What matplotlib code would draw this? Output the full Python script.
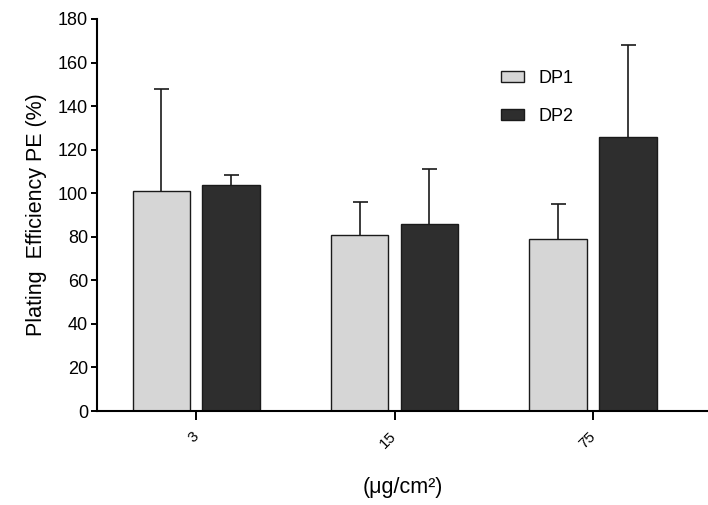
import numpy as np
import matplotlib.pyplot as plt
from matplotlib.patches import Patch

# data
doses = ['3', '15', '75']
dp1_mean = [101, 81, 79]
dp1_err = [47, 15, 16]
dp2_mean = [104, 86, 126]
dp2_err = [4.5, 25, 42]

plt.rcParams['font.family'] = ['Liberation Sans', 'DejaVu Sans']

fig = plt.figure(figsize=(7.08, 5.05), dpi=100)
ax = fig.add_axes([97 / 708, 1 - 411 / 505, 1 - 97 / 708, (411 - 19) / 505])

x = np.arange(len(doses))
width = 0.29
offset = 0.176

err_style = dict(ecolor='#1a1a1a', elinewidth=1.2, capsize=5.4, capthick=1.2)
for pos, mean, err, col in [(x - offset, dp1_mean, dp1_err, '#d6d6d6'),
                            (x + offset, dp2_mean, dp2_err, '#2e2e2e')]:
    bars = ax.bar(pos, mean, width, color=col, edgecolor='#1a1a1a', linewidth=1.0,
                  yerr=[np.zeros(len(doses)), err], error_kw=err_style, zorder=2)
    # only the upper half of the error bar gets a cap
    caps = bars.errorbar.lines[1]
    caps[0].set_visible(False)

ax.set_xlim(-0.5, 2.58)
ax.set_ylim(0, 180)
ax.set_yticks(np.arange(0, 181, 20))
ax.set_xticks(x)
ax.set_xticklabels(doses, rotation=45, ha='right', va='center',
                   rotation_mode='anchor', fontsize=11)
ax.tick_params(axis='y', labelsize=13, length=4.5, width=1.4, direction='out', pad=2)
ax.tick_params(axis='x', length=6.5, width=1.4, direction='out', pad=10)

for side in ['top', 'right']:
    ax.spines[side].set_visible(False)
for side in ['left', 'bottom']:
    ax.spines[side].set_linewidth(1.5)

ax.set_ylabel('Plating  Efficiency PE (%)', fontsize=15.5, labelpad=8)
ax.set_xlabel('(\u03bcg/cm\u00b2)', fontsize=15.5, labelpad=19)

handles = [Patch(facecolor='#d6d6d6', edgecolor='#1a1a1a', label='DP1'),
           Patch(facecolor='#2e2e2e', edgecolor='#1a1a1a', label='DP2')]
fig.legend(handles=handles, loc='upper left', bbox_to_anchor=(501 / 708, 1 - 70 / 505),
           frameon=False, fontsize=13, borderpad=0, borderaxespad=0,
           handlelength=1.3, handleheight=0.6, handletextpad=0.8, labelspacing=1.15)

fig.savefig('out.png', dpi=100)
